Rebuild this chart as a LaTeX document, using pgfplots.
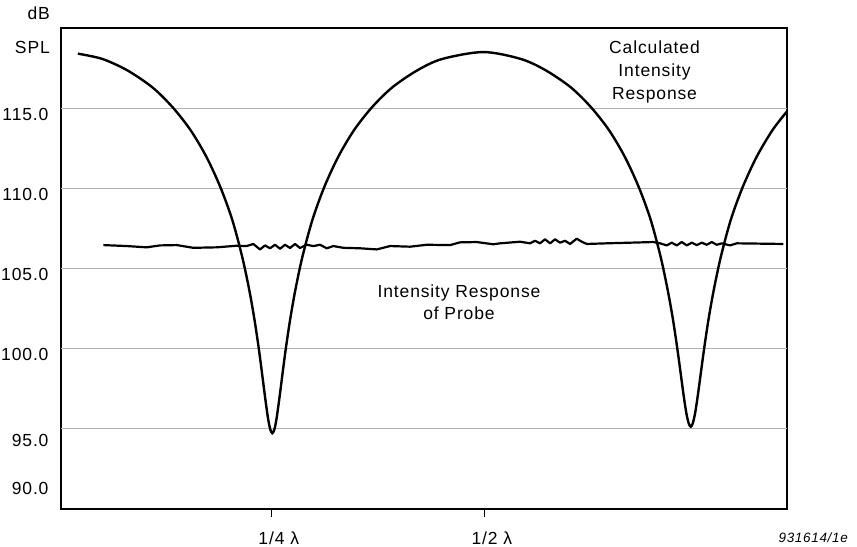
\documentclass[border=0pt]{standalone}
\usepackage{fontspec}
\setmainfont[LetterSpace=5]{Liberation Sans}
\usepackage{pgfplots}
\pgfplotsset{compat=1.18}
\newcommand{\lbl}{\fontsize{17.5bp}{22bp}\selectfont}
\begin{document}
\begin{tikzpicture}
\useasboundingbox (0,0) rectangle (857bp,547bp);
\begin{axis}[
  at={(61bp,38bp)}, anchor=south west,
  scale only axis, width=726bp, height=481bp,
  xmin=0.0029, xmax=0.855, ymin=90, ymax=120,
  axis line style={line width=1.6bp, black},
  xtick={0.25,0.5}, xticklabels={1/4\rlap{ λ}, 1/2\rlap{ λ}},
  xtick pos=bottom, tick align=outside,
  major tick length=8bp,
  xtick style={line width=1bp, black},
  xticklabel style={font=\lbl, yshift=-11bp},
  ytick={91.28,94.27,99.63,104.6,109.6,114.58},
  yticklabels={90.0,95.0,100.0,105.0,110.0,115.0},
  ytick style={draw=none},
  yticklabel style={font=\lbl, xshift=-1bp},
  extra y ticks={95,100,105,110,115},
  extra y tick labels={},
  extra y tick style={grid=major, major grid style={color=black!30, line width=1bp}, tick style={draw=none}},
  clip=true,
]
\addplot[black, line width=2.4bp, smooth, tension=0.5] coordinates {
(0.0227,118.40) (0.0514,118.07) (0.0807,117.36) (0.1101,116.30) (0.1335,115.08)
(0.1547,113.65) (0.1734,111.98) (0.1899,110.08) (0.2040,108.02) (0.2157,105.70)
(0.2239,103.65) (0.2298,101.87) (0.2345,100.21) (0.2380,98.82) (0.2415,97.35)
(0.2439,96.39) (0.2462,95.55) (0.2486,94.95) (0.2509,94.73) (0.2533,94.95)
(0.2556,95.55) (0.2579,96.39) (0.2603,97.35) (0.2638,98.82) (0.2673,100.21)
(0.2720,101.87) (0.2779,103.65) (0.2861,105.70) (0.2979,108.02) (0.3119,110.08)
(0.3284,111.98) (0.3471,113.65) (0.3683,115.08) (0.3918,116.30) (0.4211,117.36)
(0.4504,118.07) (0.4986,118.50) (0.5425,118.07) (0.5718,117.36) (0.6012,116.30)
(0.6246,115.08) (0.6458,113.65) (0.6645,111.98) (0.6810,110.08) (0.6951,108.02)
(0.7068,105.70) (0.7150,103.65) (0.7209,101.90) (0.7256,100.25) (0.7291,98.90)
(0.7326,97.50) (0.7350,96.60) (0.7373,95.85) (0.7397,95.33) (0.7420,95.13)
(0.7443,95.33) (0.7467,95.85) (0.7490,96.60) (0.7514,97.50) (0.7549,98.90)
(0.7584,100.25) (0.7631,101.90) (0.7690,103.65) (0.7772,105.70) (0.7889,108.02)
(0.8030,110.08) (0.8195,111.98) (0.8382,113.65) (0.8547,114.78)
};
\addplot[black, line width=2.2bp, line join=round] coordinates {
(0.0526,106.46) (0.0800,106.40) (0.1035,106.32) (0.1191,106.44) (0.1387,106.46)
(0.1582,106.29) (0.1857,106.32) (0.2092,106.42) (0.2209,106.40) (0.2286,106.53)
(0.2365,106.19) (0.2424,106.44) (0.2482,106.26) (0.2541,106.48) (0.2600,106.23)
(0.2658,106.48) (0.2717,106.28) (0.2776,106.53) (0.2834,106.28) (0.2913,106.48)
(0.2991,106.40) (0.3069,106.48) (0.3148,106.26) (0.3225,106.40) (0.3343,106.29)
(0.3539,106.26) (0.3735,106.19) (0.3891,106.40) (0.4126,106.36) (0.4322,106.48)
(0.4595,106.46) (0.4712,106.63) (0.4908,106.65) (0.5103,106.51) (0.5182,106.57)
(0.5417,106.67) (0.5534,106.57) (0.5593,106.73) (0.5651,106.57) (0.5710,106.82)
(0.5769,106.57) (0.5827,106.82) (0.5886,106.61) (0.5945,106.73) (0.6004,106.53)
(0.6082,106.86) (0.6141,106.67) (0.6200,106.53) (0.6434,106.57) (0.6981,106.65)
(0.7060,106.57) (0.7138,106.44) (0.7197,106.61) (0.7256,106.44) (0.7315,106.65)
(0.7373,106.44) (0.7432,106.61) (0.7491,106.46) (0.7549,106.61) (0.7608,106.48)
(0.7667,106.65) (0.7725,106.48) (0.7784,106.57) (0.7881,106.44) (0.7960,106.57)
(0.8507,106.53)
};
\node[font=\fontsize{17.5bp}{23bp}\selectfont, align=center, inner sep=0pt] at (axis cs:0.6995,117.26) {Calculated\\Intensity\\Response};
\node[font=\fontsize{17.5bp}{21.7bp}\selectfont, align=center, inner sep=0pt] at (axis cs:0.470,102.88) {Intensity Response\\of Probe};
\end{axis}
\node[font=\lbl, anchor=east, inner sep=0pt] at (50bp,534bp) {dB};
\node[font=\lbl, anchor=east, inner sep=0pt] at (50bp,500bp) {SPL};
\node[font=\fontsize{13.5bp}{15bp}\selectfont\itshape, anchor=east, inner sep=0pt] at (848bp,9bp) {931614/1e};
\end{tikzpicture}
\end{document}
